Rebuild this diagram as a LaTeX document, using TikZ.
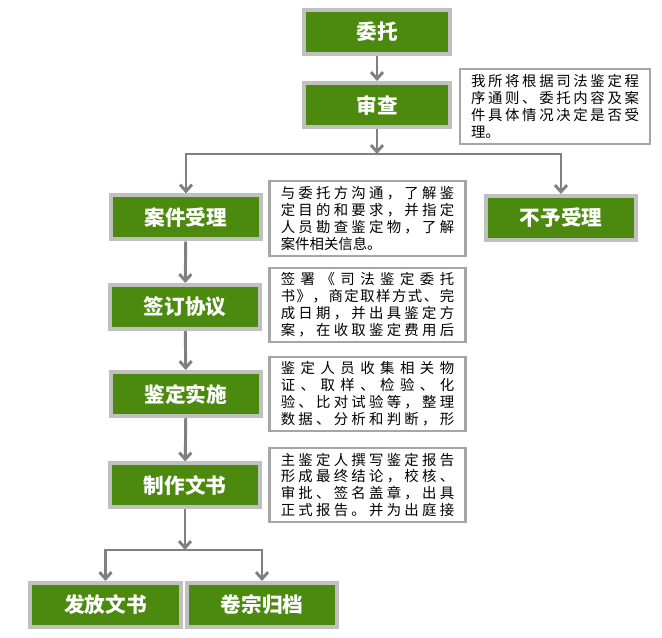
\documentclass[tikz,border=0pt]{standalone}
\usepackage{fontspec}
\newfontfamily\cjk{Noto Sans CJK SC}
\usetikzlibrary{arrows.meta}
\setlength{\parindent}{0pt}

\definecolor{boxgreen}{RGB}{75,137,15}
\definecolor{boxrim}{RGB}{192,192,192}
\definecolor{notegray}{RGB}{166,166,166}
\definecolor{linegray}{RGB}{128,128,128}

% spread one line of characters over the full note width
\makeatletter
\newcommand\spreadln[1]{\makebox[\hsize][s]{\spread@a#1\@nil}}
\def\spread@a#1#2\@nil{#1\ifx\relax#2\relax\else\hfill\spread@a#2\@nil\fi}
\makeatother

\begin{document}
\begin{tikzpicture}[
        x=0.75pt, y=-0.75pt,
        stepbox/.style={
            fill=boxgreen,
            draw=boxrim,
            line width=3pt,
            text=white,
            minimum width=113pt,
            minimum height=33pt,
            inner sep=0pt,
            font=\cjk\bfseries\fontsize{15.5}{18}\selectfont
        },
        note/.style={
            draw=notegray,
            fill=white,
            line width=1.6pt,
            text width=130pt,
            minimum height=56pt,
            inner sep=0pt,
            align=left,
            font=\cjk\fontsize{10.8}{12.7}\selectfont
        },
        line/.style={-{Straight Barb[length=5pt,width=9pt]}, draw=linegray, line width=2.2pt}
    ]
        \useasboundingbox (0,0) rectangle (662,638);

        % top
        \node[stepbox, minimum width=109pt] (weituo) at (377,32) {委托};
        \node[stepbox, minimum width=109pt] (shencha) at (377,105) {审查};
        \node[note, minimum width=143pt, text width=126pt] (note1) at (555,106.5)
            {\spreadln{我所将根据司法鉴定程}\\
             \spreadln{序通则、委托内容及案}\\
             \spreadln{件具体情况决定是否受}\\
             理。};

        \coordinate (forka) at (377,154);

        % main column
        \node[stepbox] (anjian) at (186,217.5) {案件受理};
        \node[stepbox] (buyu) at (561,218) {不予受理};
        \node[stepbox] (qianding) at (185,307) {签订协议};
        \node[stepbox] (jianding) at (186,394) {鉴定实施};
        \node[stepbox] (zhizuo) at (185,485.5) {制作文书};

        % notes
        \node[note, minimum width=147pt] (note2) at (367.5,218.5)
            {\spreadln{与委托方沟通，了解鉴}\\
             \spreadln{定目的和要求，并指定}\\
             \spreadln{人员勘查鉴定物，了解}\\
             案件相关信息。};
        \node[note, minimum width=147pt] (note3) at (367.5,305)
            {\spreadln{签署《司法鉴定委托}\\
             \spreadln{书》，商定取样方式、完}\\
             \spreadln{成日期，并出具鉴定方}\\
             \spreadln{案，在收取鉴定费用后}};
        \node[note, minimum width=147pt] (note4) at (367.5,394)
            {\spreadln{鉴定人员收集相关物}\\
             \spreadln{证、取样、检验、化}\\
             \spreadln{验、比对试验等，整理}\\
             \spreadln{数据、分析和判断，形}};
        \node[note, minimum width=147pt] (note5) at (367.5,485)
            {\spreadln{主鉴定人撰写鉴定报告}\\
             \spreadln{形成最终结论，校核、}\\
             \spreadln{审批、签名盖章，出具}\\
             \spreadln{正式报告。并为出庭接}};

        \coordinate (forkb) at (185,550);

        % bottom
        \node[stepbox] (fafang) at (105.5,605) {发放文书};
        \node[stepbox] (juanzong) at (262,605) {卷宗归档};

        % arrows
        \draw[line] (weituo) -- (shencha);
        \draw[line] (shencha) -- (forka);
        \draw[line] (forka) -| (anjian);
        \draw[line] (forka) -| (buyu);

        \draw[line] (anjian) -- (qianding);
        \draw[line] (qianding) -- (jianding);
        \draw[line] (jianding) -- (zhizuo);

        \draw[line] (zhizuo) -- (forkb);
        \draw[line] (forkb) -| (fafang);
        \draw[line] (forkb) -| (juanzong);

    \end{tikzpicture}
\end{document}
